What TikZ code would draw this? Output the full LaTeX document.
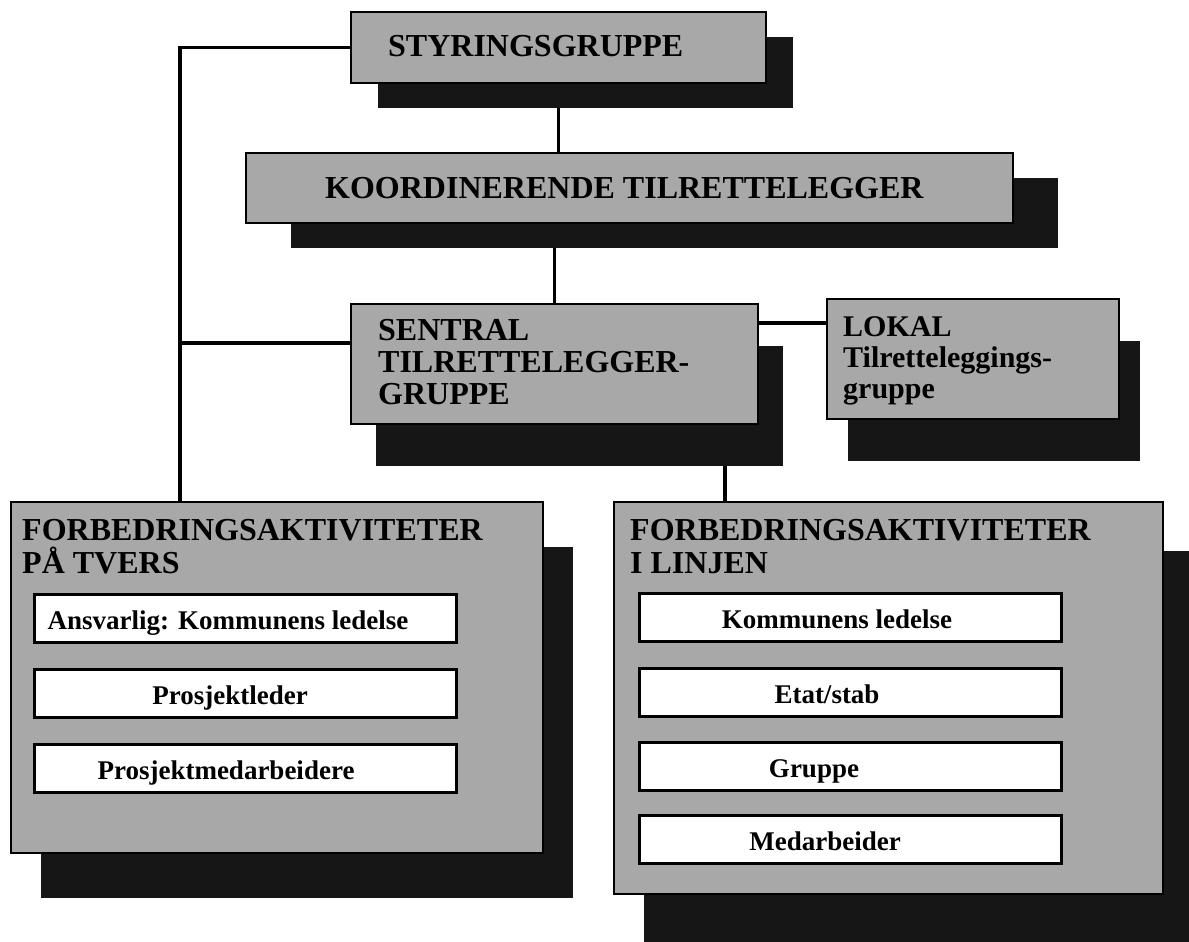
\documentclass[tikz,border=0pt]{standalone}
\usepackage{fontspec}
\setmainfont{Liberation Serif}
\usetikzlibrary{shadows,backgrounds,calc}
\definecolor{boxgray}{RGB}{168,168,168}
\definecolor{shade}{RGB}{22,22,22}
\begin{document}
\begin{tikzpicture}[x=1pt,y=-1pt,
  panel/.style={draw=black, line width=2pt, fill=boxgray, anchor=north west, inner sep=0pt},
  cast/.style 2 args={general shadow={fill=shade, shadow xshift=#1pt, shadow yshift=-#2pt}},
  entry/.style={draw=black, line width=2.5pt, fill=white, anchor=north west, inner sep=0pt,
                minimum width=422pt, minimum height=48pt},
  heading/.style={font=\bfseries\fontsize{32}{32}\selectfont, inner sep=0pt, anchor=north west, align=left},
  entrytext/.style={font=\bfseries\fontsize{27}{27}\selectfont, inner sep=0pt, anchor=base},
  wire/.style={line width=3.5pt, draw=black}]
\useasboundingbox (0,0) rectangle (1189,942);

% grey panels with their black drop shadows
\node[panel, cast={27}{25}, minimum width=415pt, minimum height=71pt] (sty) at (350,11) {};
\node[panel, cast={45}{25}, minimum width=767pt, minimum height=70pt] (koord) at (245,152) {};
\node[panel, cast={25}{42}, minimum width=407pt, minimum height=120pt] (sen) at (350,303) {};
\node[panel, cast={21}{42}, minimum width=292pt, minimum height=120pt] (lok) at (826,298) {};
\node[panel, cast={30}{45}, minimum width=532pt, minimum height=351pt] (lb) at (10,501) {};
\node[panel, cast={30}{49}, minimum width=549pt, minimum height=392pt] (rb) at (613,501) {};

% panel headings
\node[heading] (styT) at (388,35) {STYRINGSGRUPPE};
\node[heading] (koordT) at (325,177) {KOORDINERENDE TILRETTELEGGER};
\node[heading] (senT) at (378,319) {SENTRAL\\TILRETTELEGGER-\\GRUPPE};
\node[heading, font=\bfseries\fontsize{30}{31}\selectfont] (lokT) at (843,316) {LOKAL\\Tilretteleggings-\\gruppe};
\node[heading, font=\bfseries\fontsize{32}{33}\selectfont] (lbT) at (22,519) {FORBEDRINGSAKTIVITETER\\PÅ TVERS};
\node[heading, font=\bfseries\fontsize{32}{33}\selectfont] (rbT) at (630,519) {FORBEDRINGSAKTIVITETER\\I LINJEN};

% white entries, left panel
\node[entry] (l1) at (33,593) {};
\node[entry] (l2) at (33,668) {};
\node[entry] (l3) at (33,743) {};
\node[entrytext] (l1t) at ($(l1.south west)+(195,-14)$) {Ansvarlig: Kommunens ledelse};
\node[entrytext] (l2t) at ($(l2.south west)+(197,-14)$) {Prosjektleder};
\node[entrytext] (l3t) at ($(l3.south west)+(193,-14)$) {Prosjektmedarbeidere};

% white entries, right panel
\node[entry] (r1) at (638,592) {};
\node[entry] (r2) at (638,667) {};
\node[entry] (r3) at (638,741) {};
\node[entry] (r4) at (638,814) {};
\node[entrytext] (r1t) at ($(r1.south west)+(199,-14)$) {Kommunens ledelse};
\node[entrytext] (r2t) at ($(r2.south west)+(189,-14)$) {Etat/stab};
\node[entrytext] (r3t) at ($(r3.south west)+(176,-14)$) {Gruppe};
\node[entrytext] (r4t) at ($(r4.south west)+(187,-14)$) {Medarbeider};

% connecting lines, kept behind the panels
\begin{scope}[on background layer]
  \coordinate (trunk) at (180,501);
  \coordinate (senL) at ($(sen.north west)+(0,40)$);
  \coordinate (senR) at ($(sen.north east)+(0,20)$);
  \coordinate (senB) at ($(sen.south west)+(375,0)$);
  \draw[wire] (sty.west) -| (trunk);
  \draw[wire] (senL) -- (senL -| trunk);
  \draw[wire] (sty.south) -- (sty.south |- koord.north);
  \draw[wire] (sen.north) -- (sen.north |- koord.south);
  \draw[wire] (senR) -- (senR -| lok.west);
  \draw[wire] (senB) -- (senB |- rb.north);
\end{scope}
\end{tikzpicture}
\end{document}
